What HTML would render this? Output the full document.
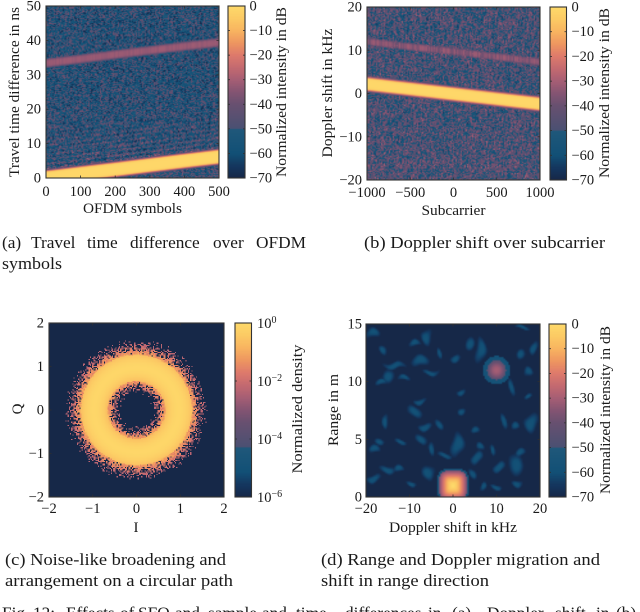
<!DOCTYPE html>
<html lang="en">
<head>
<meta charset="utf-8">
<title>Effects of SFO on radar images</title>
<style>
html,body{margin:0;padding:0;background:#fff}
#stage{position:relative;width:640px;height:612px;overflow:hidden;background:#fff;filter:blur(0.3px)}
#stage canvas{position:absolute;display:block}
#overlay{position:absolute;left:0;top:0}
text{font-family:"Liberation Serif",serif;fill:#1a1a1a}
.cap{font-size:17.3px}
</style>
</head>
<body>
<div id="stage">
<svg id="overlay" width="640" height="612" viewBox="0 0 640 612">
  <text class="cap" y="248"><tspan x="2">(a)</tspan><tspan x="31">Travel</tspan><tspan x="87">time</tspan><tspan x="130">difference</tspan><tspan x="213">over</tspan><tspan x="256">OFDM</tspan></text>
  <text class="cap" x="2" y="269" textLength="60" lengthAdjust="spacingAndGlyphs">symbols</text>
  <text class="cap" x="364" y="248" textLength="241" lengthAdjust="spacingAndGlyphs">(b) Doppler shift over subcarrier</text>
  <text class="cap" x="5" y="565" textLength="221" lengthAdjust="spacingAndGlyphs">(c) Noise-like broadening and</text>
  <text class="cap" x="5" y="586" textLength="228" lengthAdjust="spacingAndGlyphs">arrangement on a circular path</text>
  <text class="cap" x="321" y="565" textLength="279" lengthAdjust="spacingAndGlyphs">(d) Range and Doppler migration and</text>
  <text class="cap" x="321" y="586" textLength="168" lengthAdjust="spacingAndGlyphs">shift in range direction</text>
  <text class="cap" y="618.5"><tspan x="2">Fig.</tspan><tspan x="33">12:</tspan><tspan x="66">Effects</tspan><tspan x="120">of</tspan><tspan x="138">SFO</tspan><tspan x="175">and</tspan><tspan x="208">sample</tspan><tspan x="262">and</tspan><tspan x="296">time</tspan><tspan x="345">differences</tspan><tspan x="428">in</tspan><tspan x="452">(a).</tspan><tspan x="487">Doppler</tspan><tspan x="555">shift</tspan><tspan x="596">in</tspan><tspan x="616">(b)</tspan></text>
</svg>
</div>
<script>
// Colormap stops (dB and RGB).
var cmapDb = [0, -5, -10, -15, -20, -25, -30, -35, -40, -49.99, -50, -60, -65, -70];
var cmapR = [254, 252, 248, 238, 222, 196, 166, 132, 104, 74, 32, 18, 20, 22];
var cmapG = [218, 202, 180, 150, 122, 106, 94, 84, 80, 80, 88, 80, 55, 40];
var cmapB = [106, 100, 96, 96, 108, 112, 116, 114, 112, 114, 122, 118, 95, 72];

// Panel (a): travel time difference over OFDM symbols
var aSymbols = [0, 100, 200, 300, 400, 500];
var aMainDelay = [0.05, 1.3, 2.5, 3.75, 5.0, 6.2];
var aEchoDelay = [33.4, 34.6, 35.9, 37.1, 38.3, 39.4];
var aMainHalfWidth = 1.75;
var aEchoHalfWidth = 1.3;
var aEchoLevel = -32;
var aBackgroundRange = [0, 10, 20, 30, 40, 50];
var aBackgroundDb = [-50, -51, -53, -54, -54, -54];
var aXTicks = [0, 100, 200, 300, 400, 500];
var aYTicks = [0, 10, 20, 30, 40, 50];

// Panel (b): Doppler shift over subcarrier
var bSubcarriers = [-1000, -500, 0, 500, 1000];
var bMainDoppler = [2.2, 1.05, -0.1, -1.25, -2.4];
var bEchoDoppler = [12.0, 10.8, 9.7, 8.5, 7.3];
var bMainHalfWidth = 1.25;
var bEchoHalfWidth = 0.85;
var bEchoLevel = -35;
var bBackgroundRange = [-20, -10, 0, 10, 20];
var bBackgroundDb = [-46, -47, -48, -48, -48];
var bXTicks = [-1000, -500, 0, 500, 1000];
var bYTicks = [-20, -10, 0, 10, 20];

// Panel (c): constellation density ring
var cRingRadius = [0.97];
var cInnerFringe = [0.36, 0.66];
var cOuterFringe = [1.27, 1.64];
var cCoreLogDensity = [-0.1];
var cXTicks = [-2, -1, 0, 1, 2];
var cYTicks = [-2, -1, 0, 1, 2];
var cBarExponents = [0, -2, -4, -6];

// Panel (d): range-Doppler map; two targets and the sidelobe blobs
var dTargetDoppler = [0, 10];
var dTargetRange = [1, 11];
var dTargetPeak = [0, -30];
var dTargetWidth = [3.2, 2.2];
var dTargetHeight = [1.3, 0.85];
var dBlobDoppler = [-18.5,-5.9,-15.8,-9,-13.5,-7.4,-3.2,-15,-16.2,-11.6,-4.8,0.6,2.1,6.3,13.5,17.3,15.8,17,18.5,15.8,3.6,-7.4,-9,-15.4,-6.7,-3.4,1.7,5.5,18.1,11.6,14.3,1,-7,-12.4,-17,-17.7,-4.8,6,9,5.5,10.5,14.3,15.8,-15.4,-12.4,-18.1,-5.5,4.4,-1.7,6.7,15,-10,9.7];
var dBlobRange = [14.2,13.9,12.8,13.3,11.4,11.8,12.3,10.5,9.9,10.3,10.8,12,9.1,12.7,9.4,8.7,12.3,10.8,13,14.7,13.4,8.3,7.4,6.5,6.1,6.3,7.5,5.7,6.4,6.7,6.1,4.5,5,4.8,4.8,4.1,4.2,4.3,4.2,3.4,2.6,2.9,3.8,2.4,2.4,1.6,2.1,2.1,3.6,0.9,1.2,1.2,0.9];
var dBlobWidth = [1.1,0.9,0.7,1.2,2.3,1.4,0.5,0.9,1.1,1.1,1.4,1.1,0.9,0.9,0.6,0.9,0.9,0.8,0.6,1.4,0.8,1.1,1.4,0.6,1.1,0.8,0.6,0.8,1.2,0.6,0.9,1.1,1.1,1.1,0.8,1.1,0.6,0.8,0.5,0.9,0.9,1.4,0.9,1.5,1.1,1.1,1.1,0.8,1.4,0.6,0.9,0.9,1.1];
var dBlobHeight = [0.29,0.46,0.29,0.2,0.2,0.34,0.34,0.46,0.17,0.17,0.17,0.23,0.17,0.72,0.52,0.14,0.29,0.29,0.4,0.14,0.4,0.17,0.34,0.4,0.23,0.29,0.23,0.2,0.52,0.46,0.23,0.69,0.29,0.17,0.23,0.23,0.4,0.23,0.34,0.34,0.29,0.63,0.23,0.23,0.2,0.23,0.46,0.29,0.17,0.23,0.23,0.17,0.17];
var dBlobLevel = -58;
var dXTicks = [-20, -10, 0, 10, 20];
var dYTicks = [0, 5, 10, 15];

// Shared colorbar ticks in dB
var dbBarTicks = [0, -10, -20, -30, -40, -50, -60, -70];

var svgNs = 'http://www.w3.org/2000/svg';
var stage = document.getElementById('stage');
var overlay = document.getElementById('overlay');

function linear(d0, d1, r0, r1) {
  return function (v) { return r0 + (v - d0) / (d1 - d0) * (r1 - r0); };
}
function interp(xs, ys, x) {
  if (x <= xs[0]) return ys[0];
  for (var i = 1; i < xs.length; i++) {
    if (x <= xs[i]) return ys[i - 1] + (x - xs[i - 1]) / (xs[i] - xs[i - 1]) * (ys[i] - ys[i - 1]);
  }
  return ys[ys.length - 1];
}
function color(db) {
  var v = Math.max(-70, Math.min(0, db));
  var xs = cmapDb.slice().reverse();
  return [interp(xs, cmapR.slice().reverse(), v), interp(xs, cmapG.slice().reverse(), v), interp(xs, cmapB.slice().reverse(), v)];
}
// Fixed speckle texture for the noise floor (not chart data)
function grain(i, j) {
  var s = Math.sin(i * 12.9898 + j * 78.233) * 43758.5453;
  return s - Math.floor(s);
}
function fmt(v) { return v < 0 ? '\u2212' + (-v) : String(v); }

function addCanvas(name, rect, nx, ny, sharp, valueAt) {
  var c = document.createElement('canvas');
  
  
  c.width = nx;
  c.height = ny;
  c.style.left = rect.x + 'px';
  c.style.top = rect.y + 'px';
  c.style.width = rect.w + 'px';
  c.style.height = rect.h + 'px';
  if (sharp) c.style.imageRendering = 'pixelated';
  var g = c.getContext('2d');
  var img = g.createImageData(nx, ny);
  for (var j = 0; j < ny; j++) {
    for (var i = 0; i < nx; i++) {
      var col = color(valueAt(i, j, (i + 0.5) / nx, 1 - (j + 0.5) / ny));
      var k = (j * nx + i) * 4;
      img.data[k] = col[0];
      img.data[k + 1] = col[1];
      img.data[k + 2] = col[2];
      img.data[k + 3] = 255;
    }
  }
  g.putImageData(img, 0, 0);
  stage.insertBefore(c, overlay);
}
function line(name, x1, y1, x2, y2, w) {
  var el = document.createElementNS(svgNs, 'line');
  
  
  el.setAttribute('x1', x1);
  el.setAttribute('y1', y1);
  el.setAttribute('x2', x2);
  el.setAttribute('y2', y2);
  el.setAttribute('stroke', '#2f2f2f');
  el.setAttribute('stroke-width', w || 0.8);
  overlay.appendChild(el);
}
function frame(name, r) {
  var el = document.createElementNS(svgNs, 'rect');
  
  
  el.setAttribute('x', r.x);
  el.setAttribute('y', r.y);
  el.setAttribute('width', r.w);
  el.setAttribute('height', r.h);
  el.setAttribute('fill', 'none');
  el.setAttribute('stroke', '#333');
  el.setAttribute('stroke-width', 1.1);
  overlay.appendChild(el);
}
function label(name, x, y, str, anchor, size, length, rotate) {
  var el = document.createElementNS(svgNs, 'text');
  
  
  el.setAttribute('text-anchor', anchor);
  el.setAttribute('font-size', size);
  if (length) {
    el.setAttribute('textLength', length);
    el.setAttribute('lengthAdjust', 'spacingAndGlyphs');
  }
  if (rotate) {
    el.setAttribute('transform', 'translate(' + x + ',' + y + ') rotate(-90)');
  } else {
    el.setAttribute('x', x);
    el.setAttribute('y', y);
  }
  el.textContent = str;
  overlay.appendChild(el);
  return el;
}
function axes(key, r, xDom, yDom, xTicks, yTicks, xBase, yRight) {
  var sx = linear(xDom[0], xDom[1], r.x, r.x + r.w);
  var sy = linear(yDom[0], yDom[1], r.y + r.h, r.y);
  xTicks.forEach(function (t) {
    line(key + '-x-tick', sx(t), r.y + r.h, sx(t), r.y + r.h - 2.5);
    line(key + '-x-tick-top', sx(t), r.y, sx(t), r.y + 2.5);
    label(key + '-x-tick-label', sx(t), xBase, fmt(t), 'middle', 14.5);
  });
  yTicks.forEach(function (t) {
    line(key + '-y-tick', r.x, sy(t), r.x + 2.5, sy(t));
    line(key + '-y-tick-right', r.x + r.w, sy(t), r.x + r.w - 2.5, sy(t));
    label(key + '-y-tick-label', yRight, sy(t) + 4.5, fmt(t), 'end', 14.5);
  });
  frame(key + '-axes-frame', r);
}
function colorbar(key, r, labelX, titleX, titleY, titleLen, title) {
  var sy = linear(0, -70, r.y, r.y + r.h);
  addCanvas(key + '-colorbar', r, 1, 140, false, function (i, j, u, v) { return (v - 1) * 70; });
  dbBarTicks.forEach(function (t) {
    line(key + '-colorbar-tick', r.x, sy(t), r.x + 2, sy(t));
    line(key + '-colorbar-tick-right', r.x + r.w, sy(t), r.x + r.w - 2, sy(t));
    label(key + '-colorbar-tick-label', labelX, sy(t) + 4.5, fmt(t), 'start', 14.5);
  });
  frame(key + '-colorbar-frame', r);
  label(key + '-colorbar-title', titleX, titleY, title, 'middle', 15, titleLen, true);
}

/* ---------- Panel A ---------- */
var rA = {x: 46, y: 6, w: 173, h: 172};
addCanvas('heatmap-travel-time', rA, 135, 170, false, function (i, j, u, v) {
  var x = 500 * u, y = 50 * v;
  var speck = 22 * (grain(i, j) - 0.5) + 13 * (grain(i + 300, Math.floor(j / 3)) - 0.5);
  var bg = interp(aBackgroundRange, aBackgroundDb, y) + speck;
  var dm = y - interp(aSymbols, aMainDelay, x);
  if (dm > 0 && dm < 14) bg += 9 * Math.cos(2 * Math.PI * dm / 1.35) * Math.exp(-dm / 9);
  var e = Math.abs(dm) - aMainHalfWidth;
  var main = e < 0 ? -1 - 7 * Math.pow(Math.abs(dm) / aMainHalfWidth, 8) : -8 - 55 * e;
  var de = Math.abs(y - interp(aSymbols, aEchoDelay, x)) / aEchoHalfWidth;
  var echo = aEchoLevel - 14 * Math.pow(de, 4) + 2 * (grain(i, 7) - 0.5);
  return Math.max(bg, main, echo);
});
axes('travel-time', rA, [0, 500], [0, 50], aXTicks, aYTicks, 196, 41);
label('travel-time-x-axis-title', 132.5, 213, 'OFDM symbols', 'middle', 15, 99);
label('travel-time-y-axis-title', 19, 92, 'Travel time difference in ns', 'middle', 15, 170, true);
colorbar('travel-time', {x: 228, y: 6, w: 17, h: 172}, 249.5, 286, 92, 170, 'Normalized intensity in dB');

/* ---------- Panel B ---------- */
var rB = {x: 367, y: 7, w: 173, h: 173};
addCanvas('heatmap-doppler-shift', rB, 135, 150, false, function (i, j, u, v) {
  var x = -1000 + 2000 * u, y = -20 + 40 * v;
  var speck = 22 * (grain(i + 50, j) - 0.5) + 13 * (grain(i + 700, Math.floor(j / 4)) - 0.5);
  var bg = interp(bBackgroundRange, bBackgroundDb, y) + speck;
  var dm = y - interp(bSubcarriers, bMainDoppler, x);
  var e = Math.abs(dm) - bMainHalfWidth;
  var main = e < 0 ? -1 - 7 * Math.pow(Math.abs(dm) / bMainHalfWidth, 8) : -8 - 60 * e;
  var de = Math.abs(y - interp(bSubcarriers, bEchoDoppler, x)) / bEchoHalfWidth;
  var echo = bEchoLevel - 12 * Math.pow(de, 4) + 8 * (grain(i, 11) - 0.5);
  return Math.max(bg, main, echo);
});
axes('doppler-shift', rB, [-1000, 1000], [-20, 20], bXTicks, bYTicks, 197, 362);
label('doppler-shift-x-axis-title', 453.5, 215, 'Subcarrier', 'middle', 15, 64);
label('doppler-shift-y-axis-title', 332, 93, 'Doppler shift in kHz', 'middle', 15, 129, true);
colorbar('doppler-shift', {x: 550, y: 7, w: 16.5, h: 173}, 571.5, 609, 93, 170, 'Normalized intensity in dB');

/* ---------- Panel C ---------- */
var rC = {x: 49, y: 323, w: 175, h: 174};
addCanvas('heatmap-iq-density', rC, 150, 150, true, function (i, j, u, v) {
  var x = -2 + 4 * u, y = -2 + 4 * v;
  var r = Math.sqrt(x * x + y * y);
  var n = grain(i, j);
  var p;
  if (r < cRingRadius[0]) p = (r - cInnerFringe[0]) / (cInnerFringe[1] - cInnerFringe[0]);
  else p = (cOuterFringe[1] - r) / (cOuterFringe[1] - cOuterFringe[0]);
  p = Math.max(0, Math.min(1, p));
  if (n > Math.pow(p, 1.1)) return -70;
  var d = (r - cRingRadius[0]) / 0.37;
  var logDensity = cCoreLogDensity[0] - 0.85 * d * d;
  return Math.max(-27, logDensity * 70 / 6 - (p < 1 ? 2 + 8 * grain(i + 9, j) : 0));
});
axes('iq-density', rC, [-2, 2], [-2, 2], cXTicks, cYTicks, 513, 44);
label('iq-density-x-axis-title', 136, 532, 'I', 'middle', 15);
label('iq-density-y-axis-title', 22, 409, 'Q', 'middle', 15, 0, true);
var rCB = {x: 235, y: 323, w: 16.5, h: 174};
addCanvas('iq-density-colorbar', rCB, 1, 140, false, function (i, j, u, v) { return (v - 1) * 70; });
var syC = linear(0, -6, rCB.y, rCB.y + rCB.h);
cBarExponents.forEach(function (e) {
  line('iq-density-colorbar-tick', rCB.x, syC(e), rCB.x + 2, syC(e));
  line('iq-density-colorbar-tick-right', rCB.x + rCB.w, syC(e), rCB.x + rCB.w - 2, syC(e));
  var t = label('iq-density-colorbar-tick-label', 257, syC(e) + 5, '10', 'start', 14.5);
  var sup = document.createElementNS(svgNs, 'tspan');
  
  
  sup.setAttribute('dy', -5);
  sup.setAttribute('font-size', 10);
  sup.textContent = fmt(e);
  t.appendChild(sup);
});
frame('iq-density-colorbar-frame', rCB);
label('iq-density-colorbar-title', 302, 409, 'Normalized density', 'middle', 15, 129, true);

/* ---------- Panel D ---------- */
var rD = {x: 366, y: 324, w: 174, h: 173};
addCanvas('heatmap-range-doppler', rD, 110, 110, false, function (i, j, u, v) {
  var x = -20 + 40 * u, y = 15 * v;
  // gentle warp so sidelobes look organic rather than elliptical
  var wx = x + 0.4 * Math.sin(y * 2.1 + x * 0.4);
  var wy = y + 0.16 * Math.sin(x * 1.3 + y * 0.7);
  var best = -70;
  for (var b = 0; b < dBlobDoppler.length; b++) {
    var bx = (wx - dBlobDoppler[b]) / (dBlobWidth[b] * 1.1);
    var by = (wy - dBlobRange[b]) / (dBlobHeight[b] * 1.25);
    best = Math.max(best, dBlobLevel - 7 * (bx * bx + by * by));
  }
  // main target: square-ish footprint
  var ax = Math.abs(x - dTargetDoppler[0]) / dTargetWidth[0];
  var ay = Math.abs(y - dTargetRange[0]) / dTargetHeight[0];
  var d0 = Math.pow(ax * ax * ax * ax + ay * ay * ay * ay, 0.25);
  if (d0 <= 1) best = Math.max(best, dTargetPeak[0] - 38 * Math.pow(d0, 1.5));
  else if (d0 < 1.12) best = Math.max(best, -58);
  // echo target: round footprint with teal halo
  var ex = (x - dTargetDoppler[1]) / dTargetWidth[1];
  var ey = (y - dTargetRange[1]) / dTargetHeight[1];
  var d1 = Math.sqrt(ex * ex + ey * ey);
  if (d1 <= 1) best = Math.max(best, dTargetPeak[1] - 16 * d1 * d1);
  else if (d1 < 1.45) best = Math.max(best, -56 - 6 * (d1 - 1));
  return best;
});
axes('range-doppler', rD, [-20, 20], [0, 15], dXTicks, dYTicks, 513, 362);
label('range-doppler-x-axis-title', 453, 532, 'Doppler shift in kHz', 'middle', 15, 128);
label('range-doppler-y-axis-title', 338, 410, 'Range in m', 'middle', 15, 72, true);
colorbar('range-doppler', {x: 549, y: 324, w: 17, h: 173}, 571.5, 610, 410, 168, 'Normalized intensity in dB');
</script>
</body>
</html>
